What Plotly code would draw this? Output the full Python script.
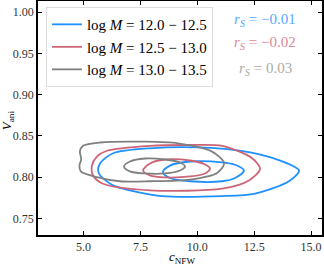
import plotly.graph_objects as go

# Contour outlines (data coords)
blue_outer_x = [5.64, 5.73, 6.30, 7.92, 10.12, 12.32, 13.64, 14.47, 14.03, 12.54, 11.09, 8.45, 7.04, 6.30, 5.73, 5.64]
blue_outer_y = [0.808, 0.817, 0.829, 0.835, 0.836, 0.830, 0.820, 0.808, 0.795, 0.780, 0.777, 0.777, 0.784, 0.790, 0.802, 0.808]
blue_inner_x = [8.49, 8.80, 9.68, 11.09, 11.66, 12.05, 11.66, 11.09, 9.68, 8.80, 8.49]
blue_inner_y = [0.806, 0.814, 0.819, 0.818, 0.815, 0.808, 0.799, 0.795, 0.795, 0.799, 0.806]
red_outer_x = [5.37, 5.59, 6.03, 7.92, 9.68, 11.09, 12.41, 12.76, 12.27, 11.09, 7.92, 5.86, 5.42, 5.37]
red_outer_y = [0.814, 0.825, 0.832, 0.838, 0.839, 0.838, 0.823, 0.810, 0.796, 0.786, 0.784, 0.792, 0.802, 0.814]
red_inner_x = [7.62, 7.92, 8.58, 9.68, 10.34, 10.56, 10.34, 9.68, 8.58, 7.92, 7.62]
red_inner_y = [0.808, 0.8166, 0.8214, 0.8202, 0.8154, 0.8105, 0.8045, 0.8008, 0.7996, 0.8021, 0.808]
gray_outer_x = [4.98, 5.73, 7.70, 9.15, 10.65, 11.18, 10.87, 9.68, 7.92, 6.60, 5.59, 4.88, 4.82, 4.90, 4.84, 4.98]
gray_outer_y = [0.838, 0.842, 0.843, 0.841, 0.831, 0.817, 0.805, 0.797, 0.795, 0.795, 0.800, 0.807, 0.814, 0.822, 0.831, 0.838]
gray_inner_x = [6.78, 7.04, 7.70, 8.58, 9.24, 9.46, 9.24, 8.58, 7.70, 7.04, 6.78]
gray_inner_y = [0.813, 0.819, 0.8226, 0.8214, 0.8178, 0.813, 0.8081, 0.8045, 0.8045, 0.807, 0.813]

labels = ["log <i>M</i> = 12.0 − 12.5", "log <i>M</i> = 12.5 − 13.0", "log <i>M</i> = 13.0 − 13.5"]
colors = ["#1e90ff", "#cc6677", "#808080"]
rs_text = ["<i>r<sub>S</sub></i> = −0.01", "<i>r<sub>S</sub></i> = −0.02", "<i>r<sub>S</sub></i> = 0.03"]
rs_colors = ["#55aaff", "#dd8899", "#aaaaaa"]
rs_y = [0.9907, 0.9628, 0.9314]

x_ticks = [5.0, 7.5, 10.0, 12.5, 15.0]
y_ticks = [0.75, 0.80, 0.85, 0.90, 0.95, 1.00]

font = "Liberation Serif"
fig = go.Figure()
groups = [
    (blue_outer_x, blue_outer_y, blue_inner_x, blue_inner_y),
    (red_outer_x, red_outer_y, red_inner_x, red_inner_y),
    (gray_outer_x, gray_outer_y, gray_inner_x, gray_inner_y),
]
for i, (ox, oy, ix, iy) in enumerate(groups):
    fig.add_trace(go.Scatter(x=ox, y=oy, mode="lines", line=dict(color=colors[i], width=1.8, shape="spline", smoothing=0.8),
                             name=labels[i], legendgroup=str(i)))
    fig.add_trace(go.Scatter(x=ix, y=iy, mode="lines", line=dict(color=colors[i], width=1.8, shape="spline", smoothing=0.9),
                             name=labels[i], legendgroup=str(i), showlegend=False))

for t, c, yy in zip(rs_text, rs_colors, rs_y):
    fig.add_annotation(x=12.98, y=yy, text=t, showarrow=False, font=dict(family=font, size=15, color=c),
                       xanchor="center", yanchor="middle")

# axis titles
fig.add_annotation(xref="paper", yref="paper", x=0.507, y=-0.098, text="<i>c</i><sub>NFW</sub>", showarrow=False,
                   font=dict(family=font, size=13, color="black"), xanchor="center", yanchor="middle")
fig.add_annotation(xref="paper", yref="paper", x=-0.109, y=0.491, text="<i>V</i><sub>ani</sub>", showarrow=False,
                   textangle=-90, font=dict(family=font, size=13, color="black"), xanchor="center", yanchor="middle")

axis_common = dict(showgrid=False, zeroline=False, showline=True, linecolor="black", linewidth=1.5, mirror="allticks",
                   ticks="inside", ticklen=4, tickcolor="black", tickwidth=1, automargin=False,
                   tickfont=dict(family=font, size=12, color="#333333"))
fig.update_xaxes(range=[3.0, 15.48], tickvals=x_ticks, ticktext=[f"{v:.1f}" for v in x_ticks], **axis_common)
fig.update_yaxes(range=[0.7298, 1.0137], tickvals=y_ticks, ticktext=[f"{v:.2f}" for v in y_ticks], **axis_common)

fig.update_layout(
    width=324, height=269,
    margin=dict(l=38, r=2, t=1, b=34, autoexpand=False),
    plot_bgcolor="white", paper_bgcolor="white",
    legend=dict(x=0.028, y=0.974, xanchor="left", yanchor="top", bgcolor="rgba(255,255,255,0.9)",
                bordercolor="#dddddd", borderwidth=1, font=dict(family=font, size=15, color="black"),
                tracegroupgap=0, itemwidth=30),
    showlegend=True,
)
fig.write_html("out.html", config={"displayModeBar": False}, post_script="document.body.style.margin='0';")
